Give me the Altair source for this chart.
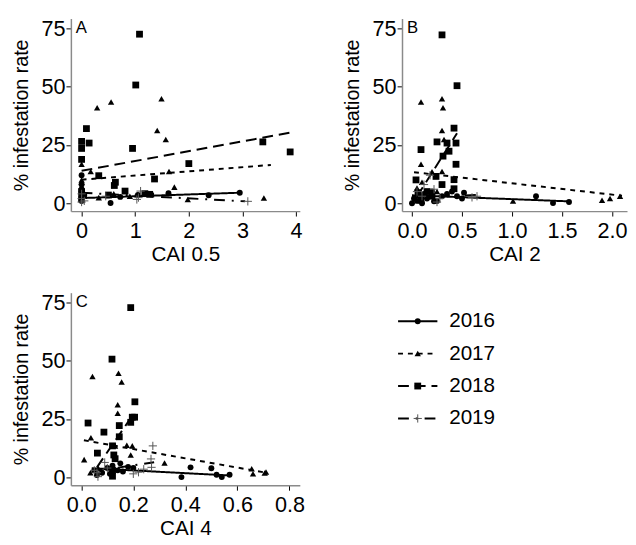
import altair as alt
import pandas as pd

years = ["2016", "2017", "2018", "2019"]

# ---------- Panel A : CAI 0.5 ----------
a16_x = [0, 0, 0, 0, 0, 0, 0, 0, 0.05, 0.54, 0.72, 1.05, 1.3, 1.62, 2.37, 2.95]
a16_y = [1, 2, 3, 4, 5, 6, 8, 12, 3.5, 0.1, 2.7, 3.5, 3.7, 4.3, 3.4, 4.5]
a17_x = [0, 0, 0, 0, 0.17, 0.29, 0.32, 0.55, 0.6, 0.9, 1.41, 1.49, 1.57, 1.63, 1.73, 1.98, 3.4, 0.05, 0, 0]
a17_y = [16.7, 3, 6, 9, 13.6, 40.9, 2.4, 43.4, 4.1, 3, 31.2, 44.8, 27.3, 13.6, 6.9, 1.6, 2.2, 4, 10, 1.5]
a18_x = [1.08, 1.01, 0.09, 0, 0.14, 0, 0.95, 3.38, 3.89, 2.0, 0, 1.36, 0.32, 0.63, 0.61, 0.81, 1.27, 0, 0, 1.18, 0.5]
a18_y = [72.5, 50.7, 32, 26.5, 25.8, 23.5, 23.5, 26.3, 22, 17, 18.8, 10.4, 11.8, 9, 7.6, 5.2, 3.8, 5, 2, 4.1, 3.5]
a19_x = [0, 0, 0, 0.05, 1.03, 1.06, 1.1, 3.1, 0.45]
a19_y = [0.5, 2, 4, 1, 1.6, 2.4, 5.2, 0.8, 3.0]

# ---------- Panel B : CAI 2 ----------
b16_x = [0.0, 0.02, 0.05, 0.08, 0.1, 0.12, 0.15, 0.2, 0.25, 0.3, 0.35, 0.4, 0.45, 0.5, 0.52, 1.24, 1.41, 1.57, 0.22]
b16_y = [0, 2, 1, 3, 0, 4, 2, 5, 1, 3, 4, 5, 3, 2, 4.5, 3, 0.1, 0.5, 0.8]
b17_x = [0.09, 0.3, 0.31, 0.3, 0.32, 0.09, 0.3, 0.05, 0.1, 0.2, 0.25, 1.01, 1.9, 1.98, 2.08, 0.35, 0.15]
b17_y = [43.4, 44.8, 40.9, 31.2, 27.3, 16.7, 13.6, 6.5, 9, 13.5, 5, 1.0, 1.3, 2, 3, 4, 3]
b18_x = [0.30, 0.45, 0.42, 0.09, 0.25, 0.35, 0.44, 0.37, 0.44, 0.31, 0.42, 0.04, 0.24, 0.15, 0.2, 0.09, 0.3, 0.06, 0.42]
b18_y = [72.2, 50.4, 32.2, 23, 26.3, 25.8, 25.8, 22.3, 16.7, 20.2, 10.1, 10, 11.5, 5, 3, 1.3, 8, 4.5, 6.2]
b19_x = [0.05, 0.1, 0.18, 0.22, 0.25, 0.28, 0.6, 0.65, 0.12]
b19_y = [5, 3, 12, 6, 0.5, 2, 2.5, 3, 8]

# ---------- Panel C : CAI 4 ----------
c16_x = [0.385, 0.42, 0.5, 0.52, 0.54, 0.57, 0.05, 0.08, 0.1, 0.12, 0.14, 0.15, 0.18, 0.2, 0.06, 0.11, 0.16]
c16_y = [0.1, 4.3, 3.9, 1.1, 0.1, 1.1, 3, 2, 4, 5, 3, 6, 4.5, 4, 1, 1.5, 2.5]
c17_x = [0.043, 0.143, 0.155, 0.14, 0.14, 0.037, 0.011, 0.13, 0.175, 0.196, 0.19, 0.32, 0.655, 0.66, 0.71, 0.705, 0.035, 0.065]
c17_y = [43.3, 44.7, 40.9, 31.1, 27.5, 17, 7.6, 13.5, 13.8, 13.5, 9.6, 6.2, 3.7, 1.5, 2.3, 1.9, 2, 4]
c18_x = [0.19, 0.118, 0.206, 0.026, 0.087, 0.146, 0.196, 0.205, 0.19, 0.146, 0.062, 0.12, 0.125, 0.12, 0.13, 0.12]
c18_y = [72.8, 50.7, 32.4, 23.3, 19.4, 22.2, 25.8, 25.8, 23.6, 17.4, 10.4, 13.5, 9.6, 0.5, 8, 3]
c19_x = [0.275, 0.268, 0.27, 0.22, 0.064, 0.09, 0.06, 0.1, 0.24, 0.2, 0.05]
c19_y = [13.5, 7.9, 4.3, 2.2, 0.3, 6.4, 2, 4, 3.5, 1.5, 3]

# ---------- fitted lines (start / end) ----------
line_a_x0 = [0, 0, 0, 0];        line_a_x1 = [2.95, 3.53, 3.9, 3.05]
line_a_y0 = [2.2, 10.1, 13.9, 4.5]; line_a_y1 = [4.5, 16.4, 30.3, 0.8]
line_b_x0 = [0, 0.02, 0.05, 0.0];  line_b_x1 = [1.57, 2.1, 0.45, 0.65]
line_b_y0 = [3.4, 13.3, 2.9, 2.5]; line_b_y1 = [0.8, 3.2, 30.0, 3.5]
line_c_x0 = [0.04, 0.01, 0.06, 0.04]; line_c_x1 = [0.57, 0.71, 0.19, 0.28]
line_c_y0 = [3.9, 15.9, 4.3, 2.5];    line_c_y1 = [0.8, 2.0, 25.4, 6.5]

pts = {
    "A": [(a16_x, a16_y), (a17_x, a17_y), (a18_x, a18_y), (a19_x, a19_y)],
    "B": [(b16_x, b16_y), (b17_x, b17_y), (b18_x, b18_y), (b19_x, b19_y)],
    "C": [(c16_x, c16_y), (c17_x, c17_y), (c18_x, c18_y), (c19_x, c19_y)],
}
lines = {
    "A": (line_a_x0, line_a_x1, line_a_y0, line_a_y1),
    "B": (line_b_x0, line_b_x1, line_b_y0, line_b_y1),
    "C": (line_c_x0, line_c_x1, line_c_y0, line_c_y1),
}

rows = []
for p, series in pts.items():
    for yr, (xs, ys) in zip(years, series):
        for xv, yv in zip(xs, ys):
            rows.append({"panel": p, "year": yr, "x": xv, "y": yv})
pts_df = pd.DataFrame(rows)

lrows = []
for p, (x0, x1, y0, y1) in lines.items():
    for i, yr in enumerate(years):
        lrows.append({"panel": p, "year": yr, "x": x0[i], "y": y0[i], "o": 0})
        lrows.append({"panel": p, "year": yr, "x": x1[i], "y": y1[i], "o": 1})
line_df = pd.DataFrame(lrows)

PLUS = "M-1,0H1M0,-1V1"
shape_scale = alt.Scale(domain=years[:3], range=["circle", "triangle-up", "square"])
size_scale = alt.Scale(domain=years[:3], range=[36, 48, 40])
dash_scale = alt.Scale(domain=years, range=[[1, 0], [5, 5], [11, 6], [11, 7, 2, 7]])
FONT = "Liberation Sans"


def panel(p, xdom, xticks, xfmt, xtitle, letter, w):
    x = alt.X("x:Q", scale=alt.Scale(domain=xdom, nice=False, zero=False),
              axis=alt.Axis(values=xticks, format=xfmt, title=xtitle))
    y = alt.Y("y:Q", scale=alt.Scale(domain=[-3.4, 79.2], nice=False, zero=False),
              axis=alt.Axis(values=[0, 25, 50, 75], title="% infestation rate"))
    filled = alt.Chart(pts_df).transform_filter(
        (alt.datum.panel == p) & (alt.datum.year != "2019")
    ).mark_point(filled=True, color="black", opacity=1).encode(
        x=x, y=y, shape=alt.Shape("year:N", scale=shape_scale, legend=None),
        size=alt.Size("year:N", scale=size_scale, legend=None))
    plus = alt.Chart(pts_df).transform_filter(
        (alt.datum.panel == p) & (alt.datum.year == "2019")
    ).mark_point(shape=PLUS, filled=False, color="#555", size=70, strokeWidth=1, opacity=1).encode(x=x, y=y)
    ln = alt.Chart(line_df).transform_filter(alt.datum.panel == p).mark_line(
        color="black", strokeWidth=2).encode(
        x=x, y=y, order="o:Q", detail="year:N",
        strokeDash=alt.StrokeDash("year:N", scale=dash_scale, legend=None))
    lab = alt.Chart(pd.DataFrame({"t": [letter]})).mark_text(
        align="left", baseline="middle", fontSize=17, font=FONT, color="black").encode(
        text="t:N", x=alt.value(5), y=alt.value(10))
    return alt.layer(ln, filled, plus, lab).properties(width=w, height=196)


pA = panel("A", [-0.2, 4.07], [0, 1, 2, 3, 4], "d", "CAI 0.5", "A", 233)
pB = panel("B", [-0.1, 2.15], [0, 0.5, 1.0, 1.5, 2.0], ".1f", "CAI 2", "B", 229)
pC = panel("C", [-0.04, 0.84], [0, 0.2, 0.4, 0.6, 0.8], ".1f", "CAI 4", "C", 233)

leg_df = pd.DataFrame({"year": years})
ly = alt.Y("year:N", axis=None, scale=alt.Scale(type="point", domain=years, range=[29, 128], padding=0))
leg_rule = alt.Chart(leg_df).mark_rule(color="black", strokeWidth=2).encode(
    y=ly, x=alt.value(0), x2=alt.value(40),
    strokeDash=alt.StrokeDash("year:N", scale=dash_scale, legend=None))
leg_pts = alt.Chart(leg_df).transform_filter(alt.datum.year != "2019").mark_point(
    filled=True, color="black", opacity=1).encode(
    y=ly, x=alt.value(20), shape=alt.Shape("year:N", scale=shape_scale, legend=None),
    size=alt.Size("year:N", scale=size_scale, legend=None))
leg_plus = alt.Chart(leg_df).transform_filter(alt.datum.year == "2019").mark_point(
    shape=PLUS, filled=False, color="#555", size=70, strokeWidth=1, opacity=1).encode(
    y=ly, x=alt.value(20))
leg_txt = alt.Chart(leg_df).mark_text(align="left", baseline="middle", fontSize=21,
                                      font=FONT, color="black").encode(
    y=ly, x=alt.value(52), text="year:N")
legend = alt.layer(leg_rule, leg_pts, leg_plus, leg_txt).properties(width=120, height=196)

row1 = alt.hconcat(pA, pB, spacing=40)
row2 = alt.hconcat(pC, legend, spacing=94)
chart = alt.vconcat(row1, row2, spacing=27).properties(
    padding={"left": 3, "top": 4, "right": 0, "bottom": 0}
).configure_view(stroke=None).configure_axis(
    grid=False, labelFont=FONT, titleFont=FONT, labelFontSize=22, titleFontSize=20,
    labelColor="black", titleColor="black", titleFontWeight="normal",
    tickColor="black", tickSize=5, domainColor="#8a8a8a", domainWidth=1.5,
    labelPadding=2
).configure_axisY(titlePadding=10, labelPadding=1).configure_axisX(
    titlePadding=2, titleFontSize=21, labelPadding=5)

chart.save("out.html", embed_options={"renderer": "svg", "actions": False})
